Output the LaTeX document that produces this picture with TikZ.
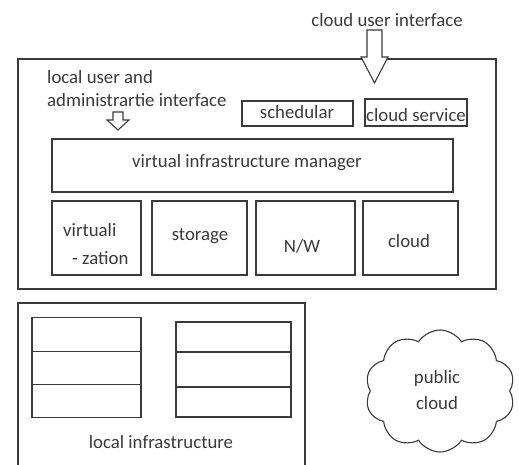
\documentclass[tikz,border=0pt]{standalone}
\usepackage{fontspec}
\setmainfont{Carlito}
\usetikzlibrary{shapes.symbols}
\definecolor{ink}{HTML}{3A3A3A}
\tikzset{
  box/.style={draw=ink, line width=1.2pt, rectangle, inner sep=0pt},
  lbl/.style={text=ink, font=\fontsize{18.8}{23}\selectfont, inner sep=0pt},
  hollow/.style={draw=ink, line width=1.1pt, fill=white, line join=miter},
}
\begin{document}
\begin{tikzpicture}[x=1pt, y=-1pt]
\clip (0,0) rectangle (519,465);
\fill[white] (0,0) rectangle (519,465);

% management layer
\node[box, minimum width=478, minimum height=230] (outer) at (257,174) {};
\node[box, minimum width=111, minimum height=25] (sched) at (297.5,113.5) {};
\node[lbl] at (297,112) {schedular};
\node[box, minimum width=102, minimum height=27] (csvc) at (416,112.5) {};
\node[lbl] at (416,115) {cloud service};
\node[box, minimum width=401, minimum height=53] (vim) at (252.5,165.5) {};
\node[lbl] at (247,163) {virtual infrastructure manager};

\node[box, minimum width=89, minimum height=74] (virt) at (96.5,238) {};
\node[lbl, anchor=west] at (63,230) {virtuali};
\node[lbl, anchor=west] at (72,258) {- zation};
\node[box, minimum width=95, minimum height=74] (stor) at (199.5,238) {};
\node[lbl] at (200,236) {storage};
\node[box, minimum width=99, minimum height=74] (nw) at (305.5,238) {};
\node[lbl] at (302,246) {N/W};
\node[box, minimum width=95, minimum height=74] (cld) at (410.5,238) {};
\node[lbl] at (409,241) {cloud};

% interfaces
\node[lbl] (cui) at (387,20) {cloud user interface};
\draw[hollow] (367,30) -- (382,30) -- (382,57) -- (388,57) -- (374.5,83)
  -- (361,57) -- (367,57) -- cycle;
\node[lbl, anchor=west, align=left] (lui) at (47,88.5)
  {local user and\\administrartie interface};
\draw[hollow] (113,112) -- (123,112) -- (123,120) -- (129,120) -- (118,130)
  -- (107,120) -- (113,120) -- cycle;

% local infrastructure
\node[box, minimum width=287, minimum height=170] (local) at (161.5,388) {};
\foreach \y in {334.5,368,401} {
  \node[box, minimum width=109, minimum height=33.5] at (86.5,\y) {};
}
\draw[ink, line width=1.2pt] (176,322) rectangle (291,417)
  (176,352) -- (291,352) (176,387) -- (291,387);
\node[lbl] at (161,442) {local infrastructure};

% public cloud
\node[cloud, draw=ink, line width=1.1pt, cloud puffs=10, cloud puff arc=115,
  aspect=1.25, minimum width=150, minimum height=122, inner sep=0pt]
  (pub) at (440,391) {};
\node[lbl, align=center] at (437,390) {public\\[3pt]cloud};
\end{tikzpicture}
\end{document}
